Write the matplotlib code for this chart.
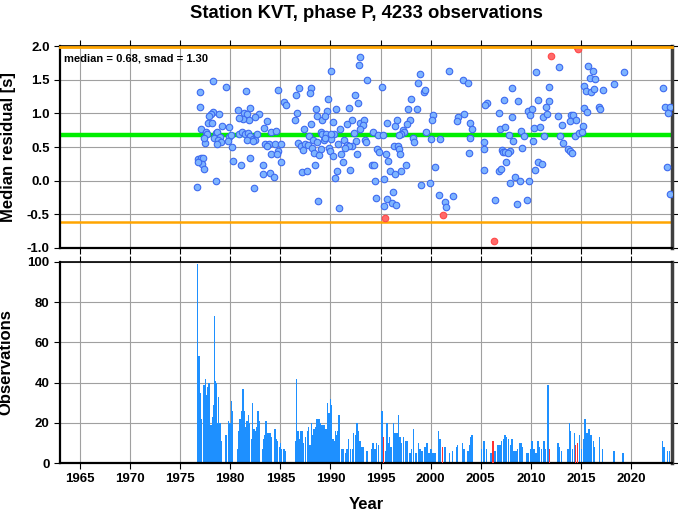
import numpy as np
import matplotlib
matplotlib.use("Agg")
import matplotlib.pyplot as plt

plt.rcParams["font.family"] = ["Liberation Sans", "DejaVu Sans"]
plt.rcParams["font.weight"] = "bold"

TITLE = "Station KVT, phase P, 4233 observations"
MEDIAN = 0.68
SMAD = 1.30

# monthly median residuals (decimal year, seconds)
res_year = [
    1978.23, 1976.97, 1979.53, 1981.6, 1984.8, 1985.4, 1985.55, 1976.97, 1978.3, 1978.03,
    1977.87, 1978.9, 1980.73, 1981.37, 1981.7, 1981.97, 1982.87, 1982.43, 1981.83, 1981.23,
    1980.9, 1977.73, 1978.13, 1977.1, 1977.53, 1977.7, 1979.17, 1979.9, 1983.37, 1983.67,
    1984.1, 1984.57, 1978.53, 1978.7, 1978.97, 1978.4, 1978.8, 1979.03, 1978.7, 1977.47,
    1977.4, 1979.87, 1980.1, 1979.8, 1980.17, 1980.9, 1981.13, 1981.47, 1981.8, 1981.93,
    1982.23, 1982.5, 1982.67, 1981.63, 1982.3, 1983.47, 1983.87, 1983.7, 1984.03, 1984.47,
    1984.8, 1985.07, 1984.7, 1976.73, 1977.03, 1977.27, 1977.17, 1977.37, 1976.8, 1980.23,
    1981.03, 1982.0, 1983.27, 1985.07, 1983.23, 1983.93, 1984.37, 1978.53, 1976.63, 1982.33,
    1993.0, 1992.83, 1990.03, 1993.67, 1995.1, 1986.83, 1988.1, 1986.57, 1987.93, 1989.77,
    1992.5, 1992.73, 1991.9, 1988.53, 1989.67, 1990.53, 1986.7, 1986.5, 1988.67, 1989.2,
    1989.5, 1990.23, 1988.03, 1987.33, 1992.17, 1991.7, 1993.0, 1993.37, 1993.27, 1992.93,
    1990.97, 1990.33, 1989.03, 1989.2, 1989.6, 1987.87, 1988.27, 1988.63, 1989.37, 1990.03,
    1989.47, 1990.1, 1992.33, 1991.33, 1992.57, 1993.47, 1993.57, 1991.67, 1992.17, 1991.87,
    1991.5, 1994.27, 1994.77, 1995.2, 1986.77, 1987.03, 1987.5, 1987.77, 1987.27, 1988.17,
    1988.37, 1989.1, 1988.9, 1989.9, 1989.97, 1990.3, 1990.73, 1991.03, 1992.67, 1994.67,
    1994.87, 1991.23, 1994.1, 1994.37, 1988.47, 1987.13, 1987.7, 1990.63, 1991.97, 1990.47,
    1994.43, 1995.37, 1988.77, 1990.87, 1994.57, 1995.3,
    2001.87, 1998.97, 1998.73, 1999.37, 1999.43, 2003.2, 2003.7, 1998.07, 1997.73, 1998.67,
    2000.27, 2000.1, 2002.73, 2002.63, 2003.3, 1995.6, 1996.47, 1996.67, 1997.9, 1997.67,
    2003.97, 2004.13, 1997.2, 1997.33, 1997.0, 1996.8, 1999.57, 1998.27, 1998.37, 2000.0,
    2000.93, 2003.9, 1996.3, 1996.73, 1996.8, 1996.97, 1995.53, 2003.8, 1995.73, 1997.57,
    2000.47, 1995.93, 1996.4, 1997.03, 1999.07, 1999.9, 1996.2, 2000.83, 2002.2, 1995.63,
    1996.13, 1996.57, 2001.47, 2001.53,
    2010.57, 2012.8, 2008.1, 2011.87, 2007.37, 2008.73, 2010.77, 2011.8, 2011.53, 2005.63,
    2005.4, 2006.83, 2008.17, 2009.73, 2010.17, 2009.97, 2011.2, 2011.63, 2012.7, 2013.97,
    2014.23, 2013.9, 2014.47, 2006.97, 2007.47, 2009.07, 2010.37, 2010.97, 2013.13, 2007.8,
    2009.3, 2011.33, 2012.9, 2014.37, 2014.8, 2005.37, 2008.23, 2010.27, 2013.23, 2005.3,
    2007.13, 2007.23, 2007.47, 2007.97, 2007.7, 2009.17, 2013.7, 2013.9, 2014.07, 2007.57,
    2010.7, 2011.1, 2005.3, 2006.8, 2007.07, 2010.43, 2008.4, 2008.9, 2007.9, 2009.87,
    2006.47, 2008.63, 2009.67,
    2015.73, 2016.17, 2015.9, 2016.4, 2019.27, 2015.33, 2015.47, 2015.97, 2016.33, 2017.23,
    2018.33, 2023.23, 2015.33, 2015.57, 2016.83, 2016.9, 2023.4, 2023.9, 2023.73, 2015.17,
    2015.07, 2023.63, 2023.9,
]
res_value = [
    1.48, 1.32, 1.39, 1.33, 1.35, 1.17, 1.12, 1.09, 1.02, 0.995,
    0.965, 0.985, 1.05, 1.01, 0.995, 1.08, 0.985, 0.945, 0.905, 0.915,
    0.925, 0.86, 0.85, 0.76, 0.73, 0.69, 0.81, 0.79, 0.78, 0.88,
    0.73, 0.74, 0.71, 0.73, 0.65, 0.64, 0.60, 0.57, 0.54, 0.56,
    0.64, 0.65, 0.68, 0.59, 0.50, 0.70, 0.72, 0.69, 0.71, 0.66,
    0.62, 0.61, 0.69, 0.61, 0.59, 0.54, 0.55, 0.51, 0.40, 0.55,
    0.44, 0.55, 0.39, 0.32, 0.33, 0.33, 0.25, 0.18, 0.28, 0.29,
    0.23, 0.34, 0.24, 0.28, 0.10, 0.11, 0.06, -0.01, -0.10, -0.11,
    1.84, 1.72, 1.63, 1.50, 1.39, 1.37, 1.38, 1.27, 1.30, 1.21,
    1.27, 1.15, 1.08, 1.07, 1.03, 1.07, 1.00, 0.90, 0.96, 0.90,
    0.96, 0.87, 0.84, 0.76, 0.90, 0.84, 0.86, 0.90, 0.82, 0.76,
    0.76, 0.69, 0.72, 0.70, 0.69, 0.66, 0.61, 0.58, 0.60, 0.62,
    0.64, 0.69, 0.71, 0.61, 0.59, 0.61, 0.57, 0.53, 0.51, 0.52,
    0.49, 0.72, 0.68, 0.68, 0.56, 0.51, 0.55, 0.53, 0.46, 0.48,
    0.41, 0.47, 0.38, 0.49, 0.44, 0.37, 0.55, 0.40, 0.40, 0.47,
    0.43, 0.28, 0.24, 0.24, 0.24, 0.13, 0.14, 0.15, 0.16, 0.04,
    -0.01, 0.02, -0.30, -0.41, -0.26, -0.38,
    1.63, 1.58, 1.45, 1.32, 1.34, 1.50, 1.45, 1.22, 1.06, 1.07,
    0.98, 0.90, 0.95, 0.88, 0.99, 0.85, 0.81, 0.90, 0.90, 0.84,
    0.85, 0.76, 0.75, 0.72, 0.70, 0.68, 0.72, 0.63, 0.58, 0.62,
    0.62, 0.64, 0.51, 0.51, 0.47, 0.40, 0.39, 0.41, 0.29, 0.24,
    0.21, 0.14, 0.10, 0.15, -0.06, -0.04, -0.17, -0.21, -0.23, -0.27,
    -0.33, -0.36, -0.32, -0.39,
    1.61, 1.69, 1.38, 1.39, 1.20, 1.18, 1.20, 1.18, 1.10, 1.16,
    1.13, 1.00, 0.95, 1.03, 1.06, 0.97, 0.95, 0.99, 0.96, 0.98,
    0.98, 0.88, 0.90, 0.77, 0.80, 0.74, 0.78, 0.80, 0.82, 0.68,
    0.67, 0.67, 0.66, 0.66, 0.71, 0.57, 0.59, 0.59, 0.56, 0.47,
    0.45, 0.42, 0.43, 0.44, 0.41, 0.48, 0.47, 0.44, 0.41, 0.28,
    0.27, 0.25, 0.16, 0.14, 0.18, 0.16, 0.05, 0.00, -0.03, 0.00,
    -0.28, -0.35, -0.29,
    1.70, 1.63, 1.52, 1.51, 1.61, 1.41, 1.33, 1.31, 1.36, 1.35,
    1.43, 1.37, 1.08, 1.02, 1.10, 1.06, 1.09, 1.09, 1.01, 0.81,
    0.73, 0.20, -0.20,
]

# flagged months (red)
flag_year = [1995.43, 2001.2, 2006.3, 2011.97, 2014.57, 2014.73]
flag_value = [-0.56, -0.51, -0.89, 1.85, 1.99, 1.95]

# observations per month
obs_year = [
    1976.73, 1976.87, 1976.97, 1977.1, 1977.37, 1977.53, 1977.63, 1977.73, 1977.87, 1977.97,
    1978.07, 1978.2, 1978.3, 1978.4, 1978.53, 1978.63, 1978.73, 1978.8, 1978.9, 1979.03,
    1979.13, 1979.57, 1979.83, 1979.97, 1980.1, 1980.2, 1980.7, 1980.83, 1980.97, 1981.13,
    1981.27, 1981.4, 1981.53, 1981.67, 1981.8, 1981.93, 1982.1, 1982.2, 1982.37, 1982.47,
    1982.63, 1982.77, 1982.87, 1983.2, 1983.33, 1983.47, 1983.57, 1983.7, 1983.83, 1983.97,
    1984.07, 1984.47, 1984.57, 1984.73, 1984.9, 1985.03, 1985.13, 1985.37, 1985.47, 1986.5,
    1986.63, 1986.77, 1986.9, 1987.07, 1987.2, 1987.33, 1987.53, 1987.7, 1987.83, 1987.97,
    1988.1, 1988.23, 1988.37, 1988.5, 1988.63, 1988.73, 1988.87, 1988.97, 1989.1, 1989.23,
    1989.37, 1989.5, 1989.63, 1989.73, 1989.87, 1990.0, 1990.13, 1990.27, 1990.37, 1990.5,
    1990.63, 1990.77, 1990.87,
    1991.08, 1991.25, 1991.48, 1991.64, 1991.81, 1991.98, 1992.18, 1992.31, 1992.48, 1992.64,
    1992.81, 1992.97, 1993.14, 1993.31, 1993.64, 1994.07, 1994.24, 1994.44, 1994.6, 1994.8,
    1995.13, 1995.27, 1995.47, 1995.63, 1995.8, 1995.9, 1996.06, 1996.3, 1996.46, 1996.63,
    1996.79, 1996.93, 1997.09, 1997.29, 1997.56, 1997.69, 1997.96, 1998.12, 1998.32, 1998.55,
    1998.79, 1998.95, 1999.15, 1999.45, 1999.62, 1999.85, 2000.05, 2000.22, 2000.45, 2000.81,
    2000.95, 2001.45, 2001.88, 2002.21, 2002.61, 2002.71, 2003.21, 2003.34, 2003.74, 2003.87,
    2004.0, 2004.14, 2005.1, 2005.27, 2005.37, 2005.56, 2006.03, 2006.43, 2006.73, 2006.93,
    2007.09, 2007.26, 2007.43, 2007.59, 2007.79, 2007.96, 2008.12, 2008.32, 2008.52, 2008.69,
    2008.85, 2009.02, 2009.19, 2009.62, 2009.78, 2009.95, 2010.12, 2010.32, 2010.51, 2010.71,
    2010.85, 2011.05, 2011.31, 2011.48, 2011.71, 2012.71, 2012.84, 2013.07, 2013.7, 2013.84,
    2013.97, 2014.17, 2014.37, 2014.87, 2015.07, 2015.3, 2015.43, 2015.63, 2015.83, 2016.03,
    2016.26, 2016.33, 2016.86, 2017.16, 2018.32, 2019.22, 2023.14, 2023.31, 2023.64, 2023.84,
]
obs_count = [
    99, 53, 35, 22, 39, 42, 34, 38, 40, 5,
    19, 23, 29, 73, 41, 40, 20, 33, 20, 20,
    11, 14, 21, 20, 31, 26, 7, 16, 22, 26,
    37, 26, 18, 21, 24, 20, 12, 30, 17, 16,
    18, 26, 21, 7, 12, 14, 21, 15, 15, 15,
    13, 17, 12, 11, 8, 10, 7, 7, 6, 11,
    42, 16, 12, 16, 16, 10, 13, 16, 18, 9,
    20, 14, 17, 18, 22, 22, 22, 20, 19, 19,
    19, 17, 17, 30, 25, 32, 29, 12, 11, 16,
    14, 16, 24,
    7, 7, 5, 7, 12, 7, 7, 15, 14, 20,
    16, 11, 8, 8, 6, 7, 10, 7, 10, 9,
    26, 8, 6, 20, 10, 13, 8, 20, 15, 15,
    24, 13, 10, 13, 11, 11, 5, 7, 17, 5,
    10, 7, 6, 8, 10, 5, 7, 5, 5, 16,
    12, 8, 5, 6, 8, 9, 10, 7, 6, 9,
    13, 14, 7, 11, 11, 7, 5, 6, 9, 9,
    11, 12, 14, 13, 12, 9, 12, 6, 6, 7,
    10, 10, 8, 5, 5, 7, 11, 7, 5, 11,
    8, 7, 11, 7, 39, 10, 8, 6, 7, 20,
    16, 7, 15, 14, 7, 12, 22, 15, 17, 14,
    11, 8, 13, 7, 6, 5, 11, 8, 6, 6,
]
flag_obs_year = [1995.33, 2001.21, 2006.23, 2011.88, 2014.5, 2014.7]
flag_obs_count = [13, 8, 11, 7, 9, 10]

XLIM = (1963.0, 2024.1)
BLUE = "#1e90ff"
RED = "#ff3030"
ORANGE = "#ffa500"
GRID = "#a0a0a0"


def style_axes(ax):
    ax.grid(True, color=GRID, lw=0.8, zorder=0)
    ax.set_axisbelow(True)
    ax.spines["left"].set_linewidth(1.6)
    ax.spines["bottom"].set_linewidth(1.6)
    ax.spines["top"].set_linewidth(1.2)
    ax.spines["right"].set_linewidth(2.5)
    ax.spines["right"].set_color("#404040")
    ax.tick_params(direction="out", length=4, width=0.8, labelsize=9.5,
                   top=True, right=True, colors="black")
    ax.set_xlim(*XLIM)
    ax.set_xticks(np.arange(1965, 2025, 5))
    for lab in ax.get_xticklabels() + ax.get_yticklabels():
        lab.set_fontweight("bold")


fig = plt.figure(figsize=(6.78, 5.11), dpi=100)
ax1 = fig.add_axes([60 / 678, 1 - 248 / 511, 612 / 678, 202 / 511])
ax2 = fig.add_axes([60 / 678, 1 - 463 / 511, 612 / 678, 201 / 511])

# residuals panel
ax1.axhline(MEDIAN, color="#00ee00", lw=3.2, zorder=2)
ax1.axhline(MEDIAN + SMAD, color=ORANGE, lw=2.0, zorder=5, clip_on=False)
ax1.axhline(MEDIAN - SMAD, color=ORANGE, lw=1.8, zorder=2)
ax1.scatter(res_year, res_value, s=22, facecolor="#7db4ff", edgecolor="#3d6af0",
            linewidths=0.8, zorder=3)
ax1.scatter(flag_year, flag_value, s=22, facecolor="#ff6a6a", edgecolor="#ff4848",
            linewidths=0.8, zorder=3)
ax1.set_ylim(-1.0, 2.0)
ax1.set_yticks([-1.0, -0.5, 0.0, 0.5, 1.0, 1.5, 2.0])
style_axes(ax1)
ax1.set_yticklabels(["%.1f" % v for v in ax1.get_yticks()], fontweight="bold")
ax1.tick_params(labelbottom=False)
ax1.set_ylabel("Median residual [s]", fontsize=12, fontweight="bold", labelpad=8)
ax1.text(0.007, 0.965, "median = %.2f, smad = %.2f" % (MEDIAN, SMAD),
         transform=ax1.transAxes, fontsize=8, fontweight="bold", va="top", ha="left")
ax1.set_title(TITLE, fontsize=13.3, fontweight="bold", pad=20)

# observation counts panel
ax2.bar(obs_year, obs_count, width=0.14, color=BLUE, linewidth=0, zorder=2)
ax2.bar(flag_obs_year, flag_obs_count, width=0.12, color=RED, linewidth=0, zorder=3)
ax2.set_ylim(0, 100)
ax2.set_yticks(np.arange(0, 101, 20))
style_axes(ax2)
ax2.set_ylabel("Observations", fontsize=12, fontweight="bold", labelpad=10)
ax2.set_xlabel("Year", fontsize=12, fontweight="bold", labelpad=8)

fig.savefig("out.png", dpi=100)
